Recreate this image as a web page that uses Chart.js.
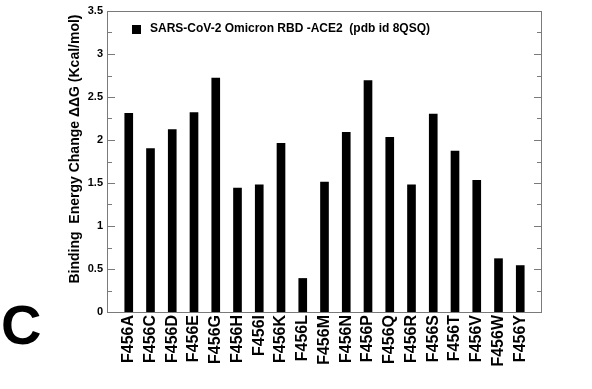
<!DOCTYPE html>
<html lang="en">
<head>
    <meta charset="UTF-8">
    <title>Binding Energy Change</title>
    <script src="https://cdn.jsdelivr.net/npm/chart.js"></script>
    <style>
        html, body { margin: 0; padding: 0; background: #fff; }
        .wrap { width: 592px; height: 389px; position: relative; }
    </style>
</head>
<body>
    <div class="wrap">
        <canvas id="ddgChart" width="592" height="389"></canvas>
    </div>

    <script>
        const mutants = ["F456A", "F456C", "F456D", "F456E", "F456G", "F456H", "F456I", "F456K", "F456L", "F456M",
                         "F456N", "F456P", "F456Q", "F456R", "F456S", "F456T", "F456V", "F456W", "F456Y"];
        const ddgValues = [2.31, 1.90, 2.12, 2.32, 2.72, 1.44, 1.48, 1.96, 0.39, 1.51,
                           2.09, 2.69, 2.03, 1.48, 2.30, 1.87, 1.53, 0.62, 0.54];
        const seriesName = "SARS-CoV-2 Omicron RBD -ACE2  (pdb id 8QSQ)";
        const yTitle = "Binding  Energy Change \u0394\u0394G (Kcal/mol)";

        const FONT = "'Liberation Sans', Arial, sans-serif";
        const frameColor = "#7a7a7a";

        // empty slot on each side, like the original plot
        const labels = [""].concat(mutants, [""]);
        const values = [null].concat(ddgValues, [null]);

        const decorations = {
            id: "decorations",
            afterDraw(chart) {
                const ctx = chart.ctx;
                const area = chart.chartArea;
                const y = chart.scales.y;
                ctx.save();

                // frame
                ctx.strokeStyle = frameColor;
                ctx.lineWidth = 1;
                ctx.strokeRect(area.left + 0.5, area.top + 0.5, area.right - area.left - 1, area.bottom - area.top);

                // inward ticks left and right
                for (let v = 0; v <= 3.5001; v += 0.25) {
                    const py = Math.round(y.getPixelForValue(v)) + 0.5;
                    const len = Math.abs(v * 2 - Math.round(v * 2)) < 0.01 ? 8 : 5;
                    ctx.beginPath();
                    ctx.moveTo(area.left, py);
                    ctx.lineTo(area.left + len, py);
                    ctx.moveTo(area.right, py);
                    ctx.lineTo(area.right - len, py);
                    ctx.stroke();
                }

                // legend
                ctx.fillStyle = "#000";
                ctx.fillRect(132, 25, 9, 9);
                ctx.font = "bold 12px " + FONT;
                ctx.textBaseline = "middle";
                ctx.textAlign = "left";
                ctx.fillText(seriesName, 150, 29);

                // y title
                ctx.save();
                ctx.translate(75, 149);
                ctx.rotate(-Math.PI / 2);
                ctx.font = "bold 14px " + FONT;
                ctx.textAlign = "center";
                ctx.textBaseline = "middle";
                ctx.fillText(yTitle, 0, 0);
                ctx.restore();

                // panel letter
                ctx.font = "bold 56px " + FONT;
                ctx.textAlign = "left";
                ctx.textBaseline = "alphabetic";
                ctx.fillText("C", 1, 344);

                ctx.restore();
            }
        };

        new Chart(document.getElementById("ddgChart"), {
            type: "bar",
            data: {
                labels: labels,
                datasets: [{
                    label: seriesName,
                    data: values,
                    backgroundColor: "#000",
                    barThickness: 8
                }]
            },
            options: {
                responsive: false,
                animation: false,
                layout: { padding: { top: 11, right: 50, left: 0, bottom: 0 } },
                plugins: {
                    legend: { display: false },
                    tooltip: { enabled: false }
                },
                scales: {
                    x: {
                        offset: false,
                        grid: { display: false, drawTicks: false },
                        border: { display: false },
                        ticks: {
                            autoSkip: false,
                            maxRotation: 90,
                            minRotation: 90,
                            padding: 3,
                            color: "#000",
                            font: { family: FONT, size: 16, weight: "bold" }
                        },
                        afterFit(scale) { scale.height = 77; }
                    },
                    y: {
                        min: 0,
                        max: 3.5,
                        grid: { display: false, drawTicks: false },
                        border: { display: false },
                        ticks: {
                            stepSize: 0.5,
                            padding: 4,
                            color: "#000",
                            font: { family: FONT, size: 11, weight: "bold" },
                            callback: v => String(Math.round(v * 100) / 100)
                        },
                        afterFit(scale) { scale.width = 107; }
                    }
                }
            },
            plugins: [decorations]
        });
    </script>
</body>
</html>
